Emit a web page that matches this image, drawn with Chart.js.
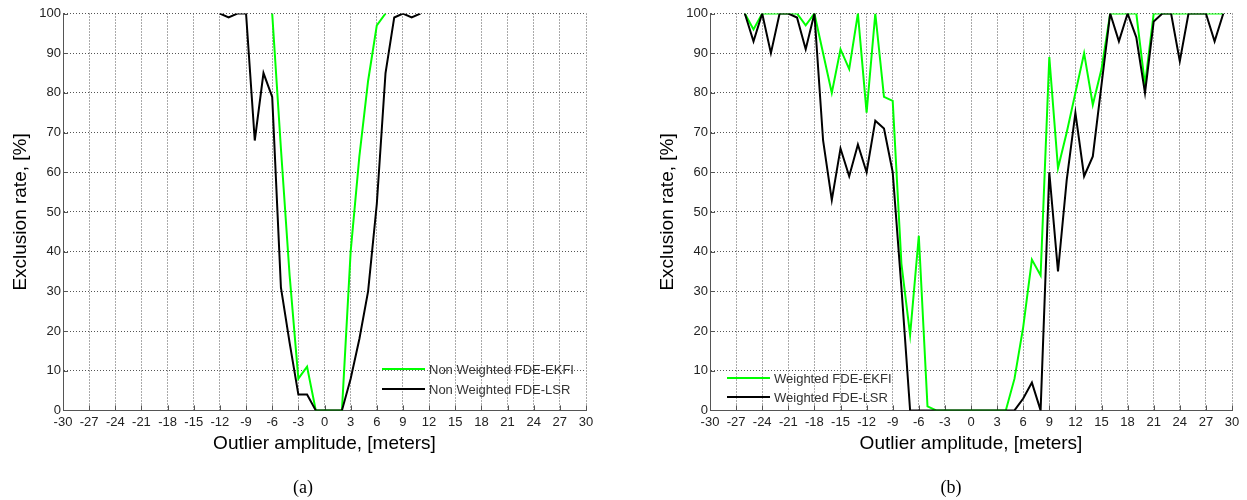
<!DOCTYPE html>
<html>
<head>
<meta charset="utf-8">
<script src="https://cdn.jsdelivr.net/npm/chart.js@4.4.0/dist/chart.umd.min.js"></script>
<style>
html,body{margin:0;padding:0;background:#fff;}
#wrap{position:relative;width:1247px;height:500px;overflow:hidden;background:#fff;}
canvas{position:absolute;top:0;}
.cap{position:absolute;font-family:'Liberation Serif','Times New Roman',serif;font-size:18px;color:#000;transform:translate(-50%,-50%);white-space:nowrap;}
.legrow{position:absolute;height:20px;display:flex;align-items:center;font-family:'Liberation Sans',Arial,sans-serif;font-size:13px;color:#333;white-space:nowrap;}
.legrow span.ln{display:inline-block;width:43px;height:2px;margin-right:4px;}
</style>
</head>
<body>
<div id="wrap">
  <canvas id="cA" width="620" height="500" style="left:0px"></canvas>
  <canvas id="cB" width="627" height="500" style="left:620px"></canvas>
  <div id="legA"></div>
  <div id="legB"></div>
  <div class="cap" id="capA" style="left:303px;top:487px">(a)</div>
  <div class="cap" id="capB" style="left:951px;top:487px">(b)</div>
</div>
<script>
// ---------------- data ----------------
const xTicksMin = -30, xTicksMax = 30, xStep = 3;
const yMin = 0, yMax = 100, yStep = 10;

const xLeft = [-12,-11,-10,-9,-8,-7,-6,-5,-4,-3,-2,-1,0,1,2,3,4,5,6,7,8,9,10,11];
const ekfiLeft = [null,null,null,null,null,null,100,66,34,8,11,0,0,0,0,40,64,83,97,100,null,null,null,null];
const lsrLeft  = [100,99,100,100,68,85,79,31,17,4,4,0,0,0,0,8,18,30,52,85,99,100,99,100];

const xRight = [-26,-25,-24,-23,-22,-21,-20,-19,-18,-17,-16,-15,-14,-13,-12,-11,-10,-9,-8,-7,-6,-5,-4,-3,-2,-1,0,1,2,3,4,5,6,7,8,9,10,11,12,13,14,15,16,17,18,19,20,21,22,23,24,25,26,27,28,29];
const ekfiRight = [100,96,100,100,100,100,100,97,100,90,80,91,86,100,75,100,79,78,37,19,44,1,
                   0,0,0,0,0,0,0,0,0,
                   8,21,38,34,89,61,70,80,90,77,86,100,100,100,100,82,100,100,100,100,100,100,100,100,100];
const lsrRight = [100,93,100,90,100,100,99,91,100,68,53,66,59,67,60,73,71,60,31,0,
                  0,0,0,0,0,0,0,0,0,0,0,0,
                  3,7,0,60,35,58,75,59,64,82,100,93,100,94,80,98,100,100,88,100,100,100,93,100];

const labelsLeft  = ['Non Weighted FDE-EKFI','Non Weighted FDE-LSR'];
const labelsRight = ['Weighted FDE-EKFI','Weighted FDE-LSR'];
const colGreen = '#00ff00', colBlack = '#000000';
const xTitle = 'Outlier amplitude, [meters]';
const yTitle = 'Exclusion rate, [%]';

// ---------------- helpers ----------------
function pts(xs, ys){ return xs.map((x,i)=>({x:x, y:ys[i]})); }

const inTicks = {
  id:'inTicks',
  beforeDatasetsDraw(chart){
    const {ctx, chartArea:a, scales:{x,y}} = chart;
    ctx.save();
    ctx.strokeStyle = '#555'; ctx.lineWidth = 1;
    ctx.beginPath();
    x.ticks.forEach(t=>{ const px=Math.round(x.getPixelForValue(t.value))+0.5; ctx.moveTo(px,a.bottom); ctx.lineTo(px,a.bottom-5); });
    y.ticks.forEach(t=>{ const py=Math.round(y.getPixelForValue(t.value))+0.5; ctx.moveTo(a.left,py); ctx.lineTo(a.left+5,py); });
    ctx.stroke();
    ctx.restore();
  }
};

function makeChart(id, xs, g, b, labels, pad, yW){
  return new Chart(document.getElementById(id), {
    type:'line',
    data:{ datasets:[
      {label:labels[0], data:pts(xs,g), borderColor:colGreen, backgroundColor:colGreen, borderWidth:2, pointRadius:0, tension:0, order:1, spanGaps:false},
      {label:labels[1], data:pts(xs,b), borderColor:colBlack, backgroundColor:colBlack, borderWidth:2, pointRadius:0, tension:0, order:0, spanGaps:false}
    ]},
    options:{
      responsive:false, animation:false, devicePixelRatio:1,
      layout:{padding:pad},
      plugins:{legend:{display:false}, tooltip:{enabled:false}},
      scales:{
        x:{type:'linear', min:xTicksMin, max:xTicksMax,
           ticks:{stepSize:xStep, padding:4, maxRotation:0, autoSkip:false, color:'#222', font:{family:"'Liberation Sans', Arial, sans-serif", size:13}},
           grid:{color:'#555', lineWidth:1, drawTicks:false},
           border:{display:true, color:'#555', width:1, dash:[1,2]},
           title:{display:true, text:xTitle, color:'#000', font:{family:"'Liberation Sans', Arial, sans-serif", size:19}, padding:{top:4,bottom:4}},
           afterFit(s){ s.height = 49; }
        },
        y:{type:'linear', min:yMin, max:yMax,
           ticks:{stepSize:yStep, padding:2, color:'#222', font:{family:"'Liberation Sans', Arial, sans-serif", size:13}},
           grid:{color:'#555', lineWidth:1, drawTicks:false},
           border:{display:true, color:'#555', width:1, dash:[1,2]},
           title:{display:true, text:yTitle, color:'#000', font:{family:"'Liberation Sans', Arial, sans-serif", size:19}, padding:{top:4,bottom:4}},
           afterFit(s){ s.width = yW; }
        }
      }
    },
    plugins:[inTicks]
  });
}

const chA = makeChart('cA', xLeft, ekfiLeft, lsrLeft, labelsLeft, {left:5, right:34, top:13.5, bottom:40.6}, 58);
const chB = makeChart('cB', xRight, ekfiRight, lsrRight, labelsRight, {left:32.6, right:15, top:13.5, bottom:40.6}, 57.4);

function buildLegend(chart, holderId, left, centers){
  const holder = document.getElementById(holderId);
  chart.data.datasets.forEach((ds,i)=>{
    const row = document.createElement('div');
    row.className = 'legrow';
    row.style.left = left + 'px';
    row.style.top = (centers[i]-10) + 'px';
    const ln = document.createElement('span');
    ln.className = 'ln';
    ln.style.background = ds.borderColor;
    const tx = document.createElement('span');
    tx.textContent = ds.label;
    row.appendChild(ln); row.appendChild(tx);
    holder.appendChild(row);
  });
}
buildLegend(chA, 'legA', 382, [369, 389]);
buildLegend(chB, 'legB', 727, [378, 397]);
</script>
</body>
</html>
